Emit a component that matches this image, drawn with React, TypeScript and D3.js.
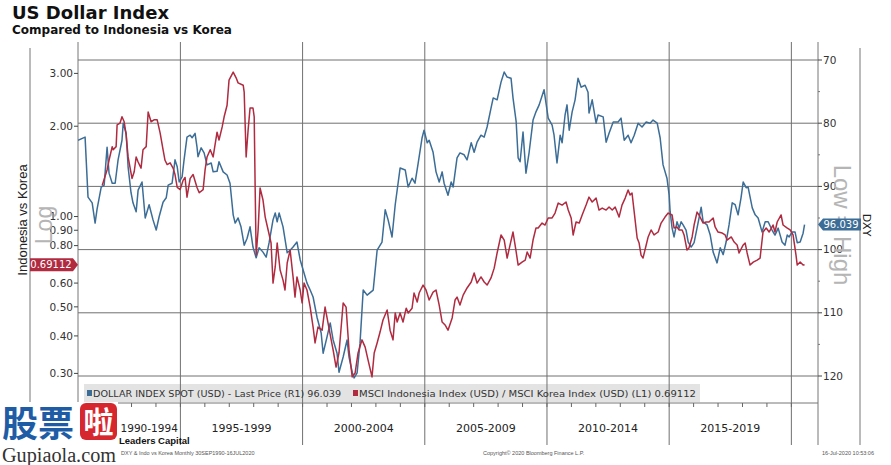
import { useEffect, useRef } from "react";
import * as d3 from "d3";

// periods along the bottom axis
const periodLabels = ["1990-1994", "1995-1999", "2000-2004", "2005-2009", "2010-2014", "2015-2019"];
const periodStarts = [1990, 1995, 2000, 2005, 2010, 2015, 2020];
const leftTicks = [3, 2, 1, 0.9, 0.8, 0.6, 0.5, 0.4, 0.3];
const rightTicks = [70, 80, 90, 100, 110, 120];
const rightMinorTicks = [75, 85, 95, 105, 115];
const lastDxy = 96.039;
const lastRatio = 0.69112;

// DOLLAR INDEX SPOT, [decimal year, value] (right axis, inverted)
const dxy: [number, number][] = [
  [1990.81, 82.7], [1991.1, 82.2], [1991.22, 91.7], [1991.39, 92.6], [1991.51, 95.8], [1991.59, 93.6], [1991.76, 90.1], [1991.88, 89.8],
  [1992.0, 83.8], [1992.08, 87.9], [1992.21, 89.5], [1992.33, 89.5], [1992.45, 85.8], [1992.61, 82.7], [1992.66, 80.0], [1992.78, 81.6],
  [1992.86, 86.9], [1992.98, 91.0], [1993.06, 92.6], [1993.19, 94.0], [1993.27, 90.6], [1993.43, 89.3], [1993.56, 95.0], [1993.72, 92.9],
  [1993.88, 95.3], [1994.01, 96.9], [1994.13, 94.8], [1994.29, 92.5], [1994.42, 91.8], [1994.5, 89.8], [1994.66, 89.5], [1994.78, 85.8],
  [1994.87, 86.9], [1994.95, 89.3], [1995.07, 88.5], [1995.15, 85.8], [1995.27, 82.2], [1995.4, 81.9], [1995.48, 82.3], [1995.6, 81.6],
  [1995.68, 83.8], [1995.72, 85.3], [1995.85, 83.9], [1995.97, 84.7], [1996.09, 86.6], [1996.26, 86.3], [1996.34, 87.7], [1996.5, 87.6],
  [1996.58, 86.1], [1996.75, 87.7], [1996.91, 88.2], [1997.03, 89.5], [1997.16, 94.5], [1997.24, 95.8], [1997.36, 95.0], [1997.48, 96.4],
  [1997.61, 99.3], [1997.73, 98.2], [1997.85, 96.4], [1997.97, 99.6], [1998.1, 101.3], [1998.22, 99.7], [1998.38, 100.4], [1998.51, 101.2],
  [1998.63, 98.9], [1998.79, 95.3], [1998.88, 94.2], [1998.96, 95.6], [1999.04, 94.2], [1999.2, 96.4], [1999.37, 100.5], [1999.49, 100.1],
  [1999.61, 99.6], [1999.77, 98.8], [1999.9, 101.6], [2000.02, 103.2], [2000.18, 105.3], [2000.31, 106.4], [2000.43, 107.5], [2000.59, 110.7],
  [2000.76, 113.2], [2000.84, 116.4], [2001.0, 113.8], [2001.13, 111.6], [2001.25, 114.3], [2001.41, 116.4], [2001.49, 119.4], [2001.66, 117.0],
  [2001.82, 114.3], [2001.9, 117.0], [2002.03, 119.4], [2002.11, 120.3], [2002.23, 119.5], [2002.35, 114.8], [2002.48, 106.4], [2002.64, 107.2],
  [2002.89, 106.4], [2003.05, 100.1], [2003.25, 98.8], [2003.38, 93.7], [2003.5, 95.3], [2003.66, 98.0], [2003.79, 92.9], [2003.99, 87.1],
  [2004.2, 87.4], [2004.32, 90.1], [2004.48, 88.7], [2004.6, 89.5], [2004.73, 86.3], [2004.89, 82.3], [2004.97, 81.1], [2005.1, 83.1],
  [2005.18, 82.7], [2005.34, 84.6], [2005.46, 87.7], [2005.59, 89.3], [2005.71, 87.7], [2005.79, 89.5], [2005.95, 91.4], [2006.08, 89.3],
  [2006.16, 90.1], [2006.32, 85.5], [2006.44, 84.7], [2006.61, 85.0], [2006.73, 85.8], [2006.9, 83.1], [2007.02, 84.6], [2007.14, 83.0],
  [2007.3, 81.9], [2007.43, 82.2], [2007.55, 80.6], [2007.71, 77.6], [2007.8, 76.0], [2007.96, 76.3], [2008.12, 73.5], [2008.25, 71.9],
  [2008.37, 72.7], [2008.53, 72.9], [2008.61, 76.0], [2008.74, 79.8], [2008.82, 85.5], [2008.9, 86.1], [2009.02, 81.4], [2009.14, 87.9],
  [2009.27, 84.6], [2009.43, 79.5], [2009.55, 78.2], [2009.68, 77.1], [2009.88, 74.7], [2010.05, 79.2], [2010.21, 80.3], [2010.29, 81.9],
  [2010.41, 86.3], [2010.54, 81.9], [2010.62, 83.1], [2010.74, 78.7], [2010.82, 77.1], [2010.91, 81.1], [2011.03, 78.2], [2011.15, 76.3],
  [2011.27, 72.9], [2011.4, 74.3], [2011.56, 74.0], [2011.68, 75.1], [2011.72, 78.4], [2011.85, 76.3], [2012.01, 80.0], [2012.09, 78.7],
  [2012.3, 79.0], [2012.42, 83.0], [2012.54, 81.6], [2012.71, 79.8], [2012.91, 79.8], [2013.03, 79.2], [2013.16, 82.7], [2013.32, 81.9],
  [2013.44, 83.1], [2013.57, 81.9], [2013.73, 80.0], [2013.89, 80.6], [2014.06, 79.8], [2014.22, 80.0], [2014.34, 79.5], [2014.51, 80.0],
  [2014.63, 82.3], [2014.75, 86.6], [2014.91, 88.7], [2015.0, 91.4], [2015.04, 94.0], [2015.12, 96.6], [2015.2, 98.0], [2015.32, 95.6],
  [2015.41, 96.6], [2015.49, 95.6], [2015.57, 96.1], [2015.69, 96.9], [2015.78, 98.8], [2015.9, 99.6], [2016.02, 98.9], [2016.14, 96.6],
  [2016.31, 93.3], [2016.39, 95.6], [2016.55, 96.1], [2016.68, 97.7], [2016.8, 100.4], [2016.96, 102.1], [2017.09, 99.7], [2017.21, 100.8],
  [2017.33, 98.8], [2017.45, 96.1], [2017.58, 92.6], [2017.7, 92.9], [2017.82, 94.5], [2017.94, 91.8], [2018.03, 89.3], [2018.15, 90.2],
  [2018.23, 90.1], [2018.4, 93.4], [2018.52, 94.5], [2018.64, 95.0], [2018.8, 97.2], [2018.93, 95.6], [2019.05, 95.6], [2019.21, 96.9],
  [2019.33, 97.7], [2019.46, 96.6], [2019.62, 98.8], [2019.74, 99.3], [2019.83, 97.7], [2019.91, 98.0], [2020.03, 97.2], [2020.15, 97.2],
  [2020.24, 98.9], [2020.36, 98.8], [2020.48, 97.4], [2020.54, 96.039],
];

// MSCI Indonesia / MSCI Korea, [decimal year, ratio] (left axis, log)
const indoKorea: [number, number][] = [
  [1991.8, 1.27], [1992.0, 1.43], [1992.08, 1.54], [1992.21, 1.71], [1992.25, 1.67], [1992.37, 1.71], [1992.41, 2.02], [1992.53, 2.05],
  [1992.61, 2.15], [1992.7, 2.07], [1992.78, 1.87], [1992.86, 1.58], [1993.02, 1.34], [1993.11, 1.41], [1993.19, 1.58], [1993.27, 1.52],
  [1993.39, 1.45], [1993.47, 1.67], [1993.6, 1.71], [1993.68, 2.23], [1993.8, 2.07], [1993.92, 2.1], [1994.05, 2.1], [1994.17, 1.9],
  [1994.29, 1.67], [1994.37, 1.54], [1994.46, 1.49], [1994.58, 1.51], [1994.7, 1.45], [1994.78, 1.38], [1994.87, 1.25], [1994.99, 1.23],
  [1995.11, 1.32], [1995.19, 1.35], [1995.27, 1.16], [1995.4, 1.34], [1995.52, 1.38], [1995.68, 1.25], [1995.77, 1.2], [1995.93, 1.23],
  [1996.01, 1.43], [1996.09, 1.58], [1996.22, 1.67], [1996.34, 1.58], [1996.5, 1.91], [1996.58, 1.8], [1996.71, 1.99], [1996.79, 2.15],
  [1996.91, 2.35], [1996.99, 2.85], [1997.16, 3.03], [1997.28, 2.9], [1997.36, 2.79], [1997.57, 2.74], [1997.61, 2.6], [1997.69, 1.58],
  [1997.77, 1.94], [1997.85, 2.3], [1997.97, 2.3], [1998.02, 2.15], [1998.06, 1.23], [1998.1, 0.744], [1998.18, 0.902], [1998.26, 1.245],
  [1998.38, 1.135], [1998.47, 0.996], [1998.59, 0.902], [1998.71, 0.816], [1998.79, 0.6], [1998.88, 0.679], [1998.96, 0.816], [1999.08, 0.663],
  [1999.2, 0.614], [1999.28, 0.569], [1999.37, 0.7], [1999.49, 0.773], [1999.61, 0.629], [1999.69, 0.539], [1999.77, 0.629], [1999.9, 0.569],
  [1999.98, 0.515], [2000.06, 0.6], [2000.18, 0.569], [2000.31, 0.499], [2000.43, 0.428], [2000.51, 0.379], [2000.63, 0.428], [2000.8, 0.418],
  [2000.92, 0.499], [2001.04, 0.442], [2001.17, 0.388], [2001.25, 0.359], [2001.37, 0.315], [2001.49, 0.351], [2001.66, 0.515], [2001.78, 0.499],
  [2001.9, 0.359], [2002.03, 0.292], [2002.15, 0.301], [2002.27, 0.351], [2002.43, 0.388], [2002.56, 0.367], [2002.68, 0.332], [2002.84, 0.292],
  [2002.93, 0.351], [2003.05, 0.379], [2003.17, 0.412], [2003.29, 0.452], [2003.46, 0.488], [2003.58, 0.418], [2003.7, 0.388], [2003.79, 0.477],
  [2003.87, 0.445], [2003.99, 0.477], [2004.11, 0.445], [2004.24, 0.495], [2004.32, 0.477], [2004.48, 0.495], [2004.56, 0.556], [2004.69, 0.519],
  [2004.77, 0.556], [2004.93, 0.591], [2005.05, 0.569], [2005.18, 0.527], [2005.34, 0.56], [2005.46, 0.569], [2005.59, 0.507], [2005.71, 0.445],
  [2005.83, 0.435], [2005.95, 0.418], [2006.12, 0.459], [2006.24, 0.527], [2006.32, 0.539], [2006.44, 0.507], [2006.57, 0.547], [2006.73, 0.578],
  [2006.9, 0.605], [2007.02, 0.648], [2007.14, 0.6], [2007.3, 0.629], [2007.43, 0.605], [2007.55, 0.591], [2007.71, 0.624], [2007.84, 0.673],
  [2007.96, 0.756], [2008.12, 0.868], [2008.25, 0.835], [2008.37, 0.727], [2008.49, 0.804], [2008.61, 0.888], [2008.74, 0.762], [2008.82, 0.689],
  [2008.98, 0.705], [2009.11, 0.716], [2009.19, 0.762], [2009.31, 0.727], [2009.43, 0.835], [2009.55, 0.916], [2009.64, 0.916], [2009.8, 0.951],
  [2009.92, 0.937], [2010.05, 0.989], [2010.21, 0.989], [2010.33, 1.027], [2010.46, 1.109], [2010.62, 1.092], [2010.78, 1.118], [2010.87, 1.051],
  [2010.99, 0.989], [2011.07, 0.868], [2011.19, 0.959], [2011.32, 0.951], [2011.44, 1.012], [2011.6, 1.092], [2011.72, 1.161], [2011.85, 1.118],
  [2012.01, 1.152], [2012.13, 1.051], [2012.26, 1.067], [2012.42, 1.051], [2012.54, 1.076], [2012.67, 1.051], [2012.79, 1.076], [2012.95, 0.996],
  [2013.07, 1.092], [2013.2, 1.152], [2013.32, 1.226], [2013.4, 1.179], [2013.48, 1.198], [2013.57, 1.035], [2013.69, 0.848], [2013.77, 0.816],
  [2013.85, 0.744], [2013.93, 0.727], [2014.06, 0.804], [2014.14, 0.855], [2014.26, 0.902], [2014.38, 0.868], [2014.55, 0.888], [2014.67, 0.951],
  [2014.83, 0.996], [2014.96, 1.027], [2015.12, 1.012], [2015.2, 0.916], [2015.32, 0.923], [2015.41, 0.902], [2015.53, 0.902], [2015.61, 0.868],
  [2015.73, 0.773], [2015.81, 0.785], [2015.94, 0.855], [2016.02, 0.937], [2016.14, 1.035], [2016.22, 1.012], [2016.39, 0.951], [2016.51, 0.959],
  [2016.63, 0.959], [2016.8, 0.989], [2016.88, 0.923], [2017.0, 0.888], [2017.17, 0.881], [2017.29, 0.868], [2017.37, 0.835], [2017.54, 0.855],
  [2017.66, 0.822], [2017.78, 0.804], [2017.86, 0.756], [2018.03, 0.804], [2018.11, 0.816], [2018.19, 0.756], [2018.31, 0.689], [2018.44, 0.705],
  [2018.6, 0.716], [2018.72, 0.727], [2018.84, 0.888], [2018.97, 0.916], [2019.09, 0.888], [2019.25, 0.937], [2019.33, 0.888], [2019.42, 0.959],
  [2019.58, 1.012], [2019.66, 0.937], [2019.82, 0.916], [2019.95, 0.902], [2020.07, 0.868], [2020.19, 0.744], [2020.24, 0.689], [2020.36, 0.705],
  [2020.48, 0.689], [2020.54, 0.69112],
];

const BLUE = "#3b6d97";
const RED = "#b02a40";
const GRID = "#707070";
const SANS = "'DejaVu Sans', Verdana, sans-serif";
const ARIAL = "'Liberation Sans', Arial, sans-serif";

export default function App() {
  const svgRef = useRef<SVGSVGElement | null>(null);

  useEffect(() => {
    document.body.style.margin = "0";
    if (!svgRef.current) return;
    const svg = d3.select(svgRef.current);
    svg.selectAll("*").remove();

    const left = 78, right = 818, top = 42, bottom = 403;
    const logoRight = 118;

    const x = d3.scaleLinear().domain([1990.81, 2021.09]).range([left, right]);
    const yR = d3.scaleLinear().domain([70, 120]).range([60, 376]);
    const yL = d3.scaleLog().domain([0.3, 3]).range([373.4, 73.4]);

    svg.append("rect").attr("width", 891).attr("height", 465).attr("fill", "#fff");

    // legend strip (sits under the grid, like the source)
    svg.append("rect")
      .attr("x", 84).attr("y", 384).attr("width", 616).attr("height", 18)
      .attr("fill", "#e3e3e3");

    // horizontal grid follows the right axis
    svg.append("g").selectAll("line").data(rightTicks).join("line")
      .attr("x1", left).attr("x2", right)
      .attr("y1", (d) => yR(d)).attr("y2", (d) => yR(d))
      .attr("stroke", GRID).attr("stroke-width", 1);

    // vertical grid at period boundaries
    svg.append("g").selectAll("line").data(periodStarts.slice(1)).join("line")
      .attr("x1", (d) => x(d)).attr("x2", (d) => x(d))
      .attr("y1", top).attr("y2", 445)
      .attr("stroke", GRID).attr("stroke-width", 1);

    // frame
    const frame = svg.append("g").attr("stroke", "#777").attr("stroke-width", 1);
    frame.append("line").attr("x1", left).attr("x2", left).attr("y1", top).attr("y2", bottom);
    frame.append("line").attr("x1", right).attr("x2", right).attr("y1", top).attr("y2", 445);
    frame.append("line").attr("x1", left).attr("x2", right).attr("y1", bottom).attr("y2", bottom);
    frame.append("line").attr("x1", 30).attr("x2", 30).attr("y1", 48).attr("y2", bottom);
    frame.append("line").attr("x1", 860).attr("x2", 860).attr("y1", 48).attr("y2", 445);

    // yearly ticks on the bottom axis
    svg.append("g").selectAll("line").data(d3.range(1991, 2021)).join("line")
      .attr("x1", (d) => x(d)).attr("x2", (d) => x(d))
      .attr("y1", bottom).attr("y2", bottom + 4)
      .attr("stroke", "#666");

    // period labels (the first one is pushed clear of the watermark)
    svg.append("g").selectAll("text").data(periodLabels).join("text")
      .attr("x", (_, i) => (Math.max(x(periodStarts[i]), i === 0 ? logoRight : left) + x(periodStarts[i + 1])) / 2)
      .attr("y", 432)
      .attr("text-anchor", "middle")
      .attr("font-family", SANS).attr("font-size", (_, i) => (i === 0 ? 10.5 : 11)).attr("fill", "#222")
      .text((d) => d);

    // series
    svg.append("clipPath").attr("id", "plotClip")
      .append("rect").attr("x", left).attr("y", top).attr("width", right - left).attr("height", bottom - top);

    const lineR = d3.line<[number, number]>().x((d) => x(d[0])).y((d) => yR(d[1]));
    const lineL = d3.line<[number, number]>().x((d) => x(d[0])).y((d) => yL(d[1]));

    svg.append("path").datum(dxy)
      .attr("clip-path", "url(#plotClip)")
      .attr("d", lineR).attr("fill", "none")
      .attr("stroke", BLUE).attr("stroke-width", 1.5).attr("stroke-linejoin", "round");

    svg.append("path").datum(indoKorea)
      .attr("clip-path", "url(#plotClip)")
      .attr("d", lineL).attr("fill", "none")
      .attr("stroke", RED).attr("stroke-width", 1.5).attr("stroke-linejoin", "round");

    // left axis (log)
    const la = svg.append("g");
    la.selectAll("line").data(leftTicks).join("line")
      .attr("x1", left - 4).attr("x2", left)
      .attr("y1", (d) => yL(d)).attr("y2", (d) => yL(d))
      .attr("stroke", "#444");
    la.selectAll("text").data(leftTicks).join("text")
      .attr("x", left - 5).attr("y", (d) => yL(d)).attr("dy", "0.35em")
      .attr("text-anchor", "end")
      .attr("font-family", SANS).attr("font-size", 10.5).attr("fill", "#333")
      .text((d) => d3.format(".2f")(d));

    // right axis (inverted)
    const ra = svg.append("g");
    ra.selectAll("line.major").data(rightTicks).join("line")
      .attr("class", "major")
      .attr("x1", right).attr("x2", right + 4)
      .attr("y1", (d) => yR(d)).attr("y2", (d) => yR(d))
      .attr("stroke", "#444");
    ra.selectAll("line.minor").data(rightMinorTicks).join("line")
      .attr("class", "minor")
      .attr("x1", right).attr("x2", right + 2)
      .attr("y1", (d) => yR(d)).attr("y2", (d) => yR(d))
      .attr("stroke", "#777");
    ra.selectAll("text").data(rightTicks).join("text")
      .attr("x", right + 5).attr("y", (d) => yR(d)).attr("dy", "0.35em")
      .attr("font-family", SANS).attr("font-size", 10.5).attr("fill", "#333")
      .text((d) => d);

    // axis captions
    svg.append("text")
      .attr("transform", "translate(22,220) rotate(-90)")
      .attr("text-anchor", "middle").attr("dy", "0.35em")
      .attr("font-family", ARIAL).attr("font-size", 13).attr("fill", "#222")
      .text("Indonesia vs Korea");
    svg.append("text")
      .attr("transform", "translate(44,225) rotate(-90)")
      .attr("text-anchor", "middle").attr("dy", "0.35em")
      .attr("font-family", ARIAL).attr("font-size", 23).attr("fill", "#b5b5b5")
      .text("Log");
    svg.append("text")
      .attr("transform", "translate(842,225) rotate(90)")
      .attr("text-anchor", "middle").attr("dy", "0.35em")
      .attr("font-family", ARIAL).attr("font-size", 24).attr("fill", "#b5b5b5")
      .text("Low = High");
    svg.append("text")
      .attr("transform", "translate(867,225) rotate(90)")
      .attr("text-anchor", "middle").attr("dy", "0.35em")
      .attr("font-family", SANS).attr("font-size", 11).attr("fill", "#222")
      .text("DXY");

    // last value tags
    const ty = yR(lastDxy);
    svg.append("path")
      .attr("d", `M${right},${ty} L${right + 5},${ty - 6} L861,${ty - 6} L861,${ty + 6} L${right + 5},${ty + 6} Z`)
      .attr("fill", BLUE);
    svg.append("text")
      .attr("x", 841).attr("y", ty).attr("dy", "0.35em").attr("text-anchor", "middle")
      .attr("font-family", SANS).attr("font-size", 10).attr("fill", "#fff")
      .text(lastDxy.toFixed(3));

    const ly = yL(lastRatio);
    svg.append("path")
      .attr("d", `M30,${ly - 6.5} L${left - 5},${ly - 6.5} L${left},${ly} L${left - 5},${ly + 6.5} L30,${ly + 6.5} Z`)
      .attr("fill", RED);
    svg.append("text")
      .attr("x", 51).attr("y", ly).attr("dy", "0.35em").attr("text-anchor", "middle")
      .attr("font-family", SANS).attr("font-size", 10).attr("fill", "#fff")
      .text(lastRatio.toFixed(5));

    // legend text
    const lg = svg.append("g").attr("font-family", SANS).attr("font-size", 9.5).attr("fill", "#333");
    lg.append("rect").attr("x", 87).attr("y", 390).attr("width", 5).attr("height", 6).attr("fill", BLUE);
    lg.append("text").attr("x", 93).attr("y", 396.5)
      .attr("textLength", 248).attr("lengthAdjust", "spacingAndGlyphs")
      .text(`DOLLAR INDEX SPOT (USD) - Last Price (R1) ${lastDxy}`);
    lg.append("rect").attr("x", 353).attr("y", 390).attr("width", 5).attr("height", 6).attr("fill", RED);
    lg.append("text").attr("x", 359).attr("y", 396.5)
      .attr("textLength", 337).attr("lengthAdjust", "spacingAndGlyphs")
      .text(`MSCI Indonesia Index (USD) / MSCI Korea Index (USD) (L1) ${lastRatio}`);

    // titles
    svg.append("text").attr("x", 12).attr("y", 19)
      .attr("font-family", SANS).attr("font-weight", "bold").attr("font-size", 18).attr("fill", "#111")
      .text("US Dollar Index");
    svg.append("text").attr("x", 12).attr("y", 34)
      .attr("font-family", SANS).attr("font-weight", "bold").attr("font-size", 12).attr("fill", "#111")
      .text("Compared to Indonesia vs Korea");

    // footer
    svg.append("text").attr("x", logoRight + 1).attr("y", 444)
      .attr("font-family", ARIAL).attr("font-weight", "bold").attr("font-size", 9.5).attr("fill", "#111")
      .text("Leaders Capital");
    const ft = svg.append("g").attr("font-family", ARIAL).attr("font-size", 5.5).attr("fill", "#555");
    ft.append("text").attr("x", 121).attr("y", 455).text("DXY & Indo vs Korea  Monthly 30SEP1990-16JUL2020");
    ft.append("text").attr("x", 483).attr("y", 455).text("Copyright\u00a9 2020 Bloomberg Finance L.P.");
    ft.append("text").attr("x", 822).attr("y", 455).text("16-Jul-2020 10:53:06");

    // watermark logo
    const wm = svg.append("g");
    wm.append("rect").attr("x", 0).attr("y", 402).attr("width", logoRight).attr("height", 63).attr("fill", "#fff");
    wm.append("text").attr("x", 2).attr("y", 437)
      .attr("font-family", "'Noto Sans CJK SC', sans-serif").attr("font-weight", "bold")
      .attr("font-size", 36).attr("fill", "#1f5ca6")
      .text("股票");
    wm.append("rect").attr("x", 80).attr("y", 403).attr("width", 37).attr("height", 37).attr("rx", 6)
      .attr("fill", "#d6262e");
    wm.append("text").attr("x", 98.5).attr("y", 433).attr("text-anchor", "middle")
      .attr("font-family", "'Noto Sans CJK SC', sans-serif").attr("font-weight", "bold")
      .attr("font-size", 30).attr("fill", "#fff")
      .text("啦");
    wm.append("text").attr("x", 2).attr("y", 462)
      .attr("font-family", "'Liberation Serif', serif").attr("font-size", 20).attr("fill", "#333")
      .attr("textLength", 114).attr("lengthAdjust", "spacingAndGlyphs")
      .text("Gupiaola.com");
  }, []);

  return (
    <svg ref={svgRef} width={891} height={465} style={{ display: "block", background: "#fff" }} />
  );
}
